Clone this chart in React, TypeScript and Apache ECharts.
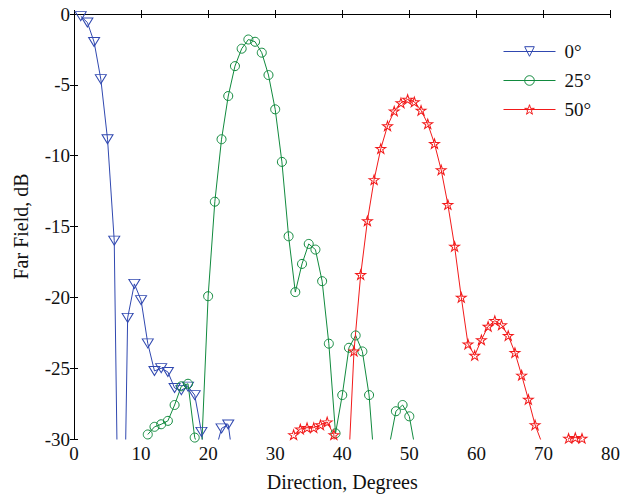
import React, { useEffect, useRef } from "react";
import * as echarts from "echarts";

// ---- data ----
const xTicksMax = 80;
const blueX = [1, 2, 3, 4, 5, 6, 7, 8, 9, 10, 11, 12, 13, 14, 15, 16, 17, 18, 19, 20, 21, 22, 23, 24];
const blueY = [-0.15, -0.6, -1.98, -4.6, -8.84, -16.0, -51, -21.45, -19.05, -20.2, -23.25, -25.2, -25.0, -25.27, -26.4, -26.55, -26.3, -26.9, -29.5, -33, -31, -29.25, -28.98, -32.5];

const greenX = [11, 12, 13, 14, 15, 16, 17, 18, 19, 20, 21, 22, 23, 24, 25, 26, 27, 28, 29, 30, 31, 32, 33, 34, 35, 36, 37, 38, 39, 40, 41, 42, 43, 44, 45, 46, 47, 48, 49, 50, 51];
const greenY = [-29.68, -29.14, -28.96, -28.72, -27.6, -26.28, -26.1, -29.9, -31, -19.92, -13.25, -8.84, -5.79, -3.68, -2.45, -1.8, -1.96, -2.73, -4.31, -6.73, -10.44, -15.69, -19.63, -17.64, -16.23, -16.63, -18.86, -23.27, -29.6, -26.9, -23.56, -22.69, -23.82, -26.9, -33, -36, -30.5, -28.04, -27.6, -28.4, -31];

const redX = [32.75, 33.75, 34.75, 35.75, 36.75, 37.75, 38.75, 39.75, 40.75, 41.75, 42.75, 43.75, 44.75, 45.75, 46.75, 47.75, 48.75, 49.75, 50.75, 51.75, 52.75, 53.75, 54.75, 55.75, 56.75, 57.75, 58.75, 59.75, 60.75, 61.75, 62.75, 63.75, 64.75, 65.75, 66.75, 67.75, 68.75, 69.75, 70.75, 71.75, 72.75, 73.75, 74.75, 75.75];
const redY = [-29.7, -29.3, -29.2, -29.2, -29.0, -28.8, -29.7, -40, -33.8, -23.8, -18.4, -14.6, -11.7, -9.5, -7.9, -6.85, -6.27, -6.03, -6.2, -6.8, -7.75, -9.15, -11.0, -13.45, -16.4, -20.0, -23.3, -24.1, -23.0, -22.05, -21.65, -21.95, -22.7, -23.9, -25.5, -27.2, -29.0, -30.25, -40, -40, -35, -29.95, -29.9, -29.95];

const seriesNames = ["0°", "25°", "50°"];
const colors = ["#3048b0", "#118a3e", "#f21a1a"];

const STAR =
  "path://M10 0 L12.245 6.91 L19.511 6.91 L13.633 11.18 L15.878 18.09 L10 13.82 L4.122 18.09 L6.367 11.18 L0.489 6.91 L7.755 6.91 Z";

const FONT = "Liberation Serif";
const HOLLOW = "rgba(255,255,255,0)";

export default function App() {
  const ref = useRef<HTMLDivElement>(null);

  useEffect(() => {
    if (!ref.current) return;
    const chart = echarts.init(ref.current, null, { renderer: "svg" });

    const mk = (
      name: string,
      xs: number[],
      ys: number[],
      color: string,
      symbol: string,
      size: number | number[],
      rotate: number
    ) => ({
      name,
      type: "line",
      color,
      data: xs.map((x, i) => [x, ys[i]]),
      symbol,
      symbolSize: size,
      symbolRotate: rotate,
      showSymbol: true,
      clip: true,
      lineStyle: { color, width: 1 },
      itemStyle: { color: HOLLOW, borderColor: color, borderWidth: 1 },
      emphasis: { disabled: true },
    });

    const axisLine = { show: true, lineStyle: { color: "#000", width: 1 } };
    const tick = { show: true, inside: true, length: 4, lineStyle: { color: "#000" } };

    chart.setOption({
      animation: false,
      backgroundColor: "#fff",
      grid: { left: 74, right: 9, top: 14, bottom: 56 },
      legend: {
        orient: "vertical",
        left: 498,
        top: 37,
        itemWidth: 52,
        itemHeight: 12,
        itemGap: 10,
        data: seriesNames.map((n, i) => ({
          name: n,
          itemStyle: { color: HOLLOW, borderColor: colors[i], borderWidth: 1 },
          lineStyle: { color: colors[i], width: 1 },
        })),
        textStyle: { fontFamily: FONT, fontSize: 19, color: "#111", padding: [0, 0, 0, 4] },
      },
      xAxis: [
        {
          type: "value",
          min: 0,
          max: xTicksMax,
          interval: 10,
          position: "bottom",
          axisLine,
          axisTick: tick,
          splitLine: { show: false },
          axisLabel: { fontFamily: FONT, fontSize: 19, color: "#111", margin: 5 },
          name: "Direction, Degrees",
          nameLocation: "middle",
          nameGap: 33,
          nameTextStyle: { fontFamily: FONT, fontSize: 20, color: "#111" },
        },
        {
          type: "value",
          min: 0,
          max: xTicksMax,
          interval: 10,
          position: "top",
          axisLine,
          axisTick: tick,
          splitLine: { show: false },
          axisLabel: { show: false },
        },
      ],
      yAxis: [
        {
          type: "value",
          min: -30,
          max: 0,
          interval: 5,
          position: "left",
          axisLine,
          axisTick: tick,
          splitLine: { show: false },
          axisLabel: { fontFamily: FONT, fontSize: 19, color: "#111", margin: 4 },
          name: "Far Field, dB",
          nameLocation: "middle",
          nameGap: 43,
          nameTextStyle: { fontFamily: FONT, fontSize: 20, color: "#111" },
        },
        {
          type: "value",
          min: -30,
          max: 0,
          interval: 5,
          position: "right",
          axisLine,
          axisTick: tick,
          splitLine: { show: false },
          axisLabel: { show: false },
        },
      ],
      series: [
        mk(seriesNames[0], blueX, blueY, colors[0], "triangle", [11, 9], 180),
        mk(seriesNames[1], greenX, greenY, colors[1], "circle", 9, 0),
        mk(seriesNames[2], redX, redY, colors[2], STAR, [10, 9.5], 0),
      ],
    });

    return () => chart.dispose();
  }, []);

  return (
    <div
      ref={ref}
      style={{ position: "fixed", left: 0, top: 0, width: 623, height: 497, background: "#fff" }}
    />
  );
}
